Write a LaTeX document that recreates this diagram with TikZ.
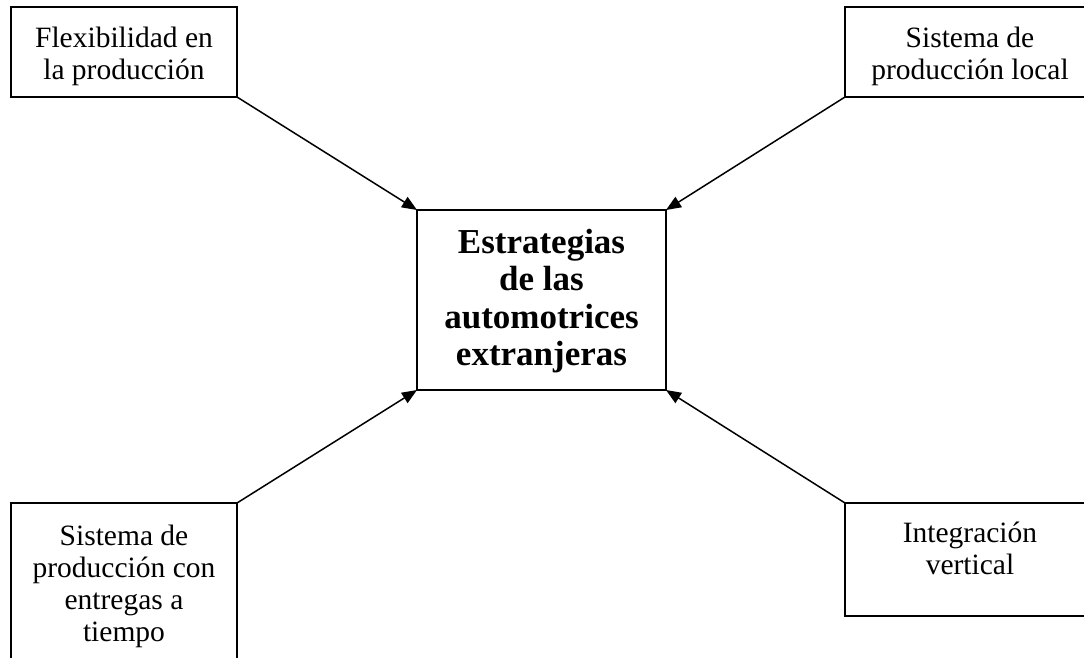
\documentclass[tikz,border=0pt]{standalone}
\usepackage{fontspec}
\setmainfont{Liberation Serif}
\usetikzlibrary{arrows.meta}
\begin{document}
\begin{tikzpicture}[x=1pt,y=-1pt,
  box/.style={draw, line width=1.6pt, inner sep=0pt, outer sep=0pt,
    align=center, anchor=base, font=\fontsize{29.5}{32}\selectfont},
  hub/.style={box, font=\fontsize{35}{37.5}\selectfont\bfseries},
  link/.style={line width=1.5pt, -{Triangle[length=15pt,width=12pt]}}]
\useasboundingbox (0,0) rectangle (1084,657);
% outer factors (anchored at the baseline of their last text line)
\node[box, minimum width=226pt, text height=72pt, text depth=18pt]
  (flex) at (124,79) {Flexibilidad en\\la producción};
\node[box, minimum width=250pt, text height=72pt, text depth=18pt]
  (local) at (970,79) {Sistema de\\producción local};
\node[box, minimum width=226pt, text height=138pt, text depth=40pt]
  (jit) at (124,641) {Sistema de\\producción con\\entregas a\\tiempo};
\node[box, minimum width=250pt, text height=71pt, text depth=42pt]
  (vert) at (970,574) {Integración\\vertical};
% central strategy box
\node[hub, minimum width=249pt, text height=155.5pt, text depth=24.5pt]
  (core) at (541.5,365.5) {Estrategias\\de las\\automotrices\\extranjeras};
% connectors
\draw[link] (flex.south east) -- (core.north west);
\draw[link] (local.south west) -- (core.north east);
\draw[link] (jit.north east) -- (core.south west);
\draw[link] (vert.north west) -- (core.south east);
\end{tikzpicture}
\end{document}
